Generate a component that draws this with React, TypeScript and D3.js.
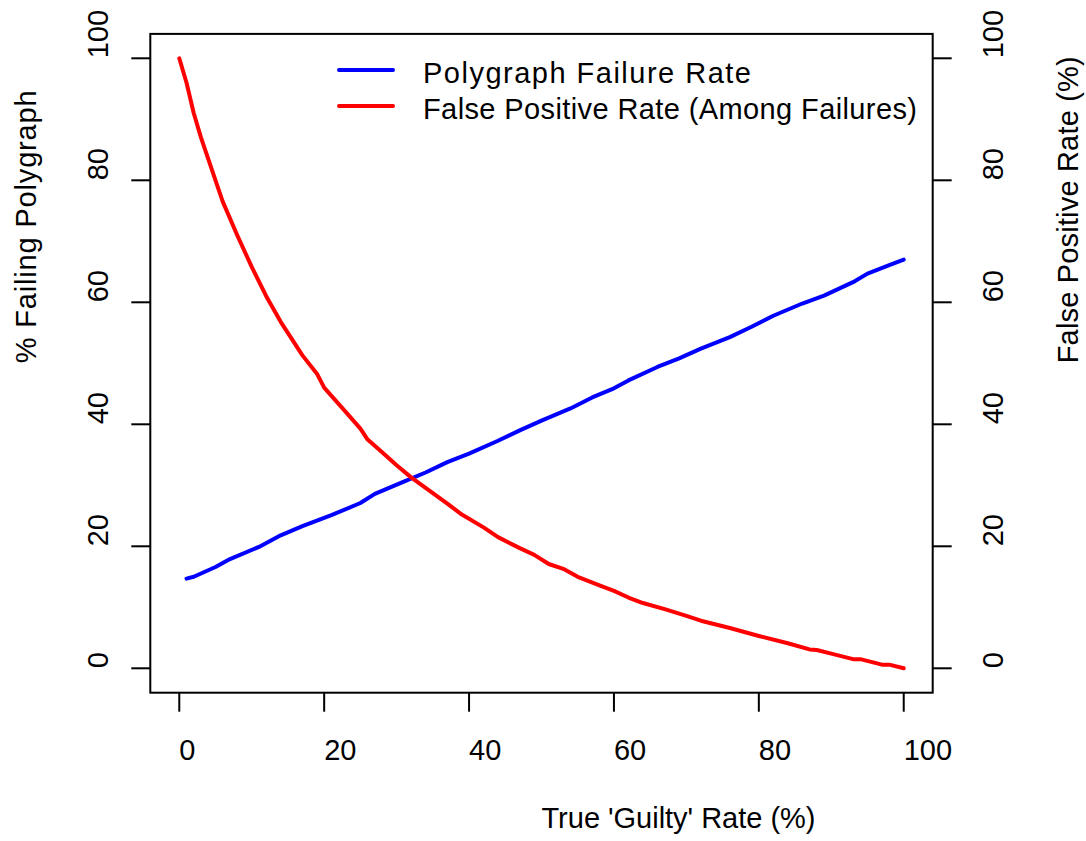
import React from "react";
import * as d3 from "d3";

// values
const failX = [1, 2, 5, 7, 11, 14, 17, 21, 25, 27, 31, 34, 37, 40, 44, 47, 50, 54, 57, 60, 62, 66, 69, 72, 76, 79, 82, 86, 89, 93, 95, 98, 100];
const failRate = [14.7, 15.0, 16.6, 17.9, 19.9, 21.8, 23.3, 25.1, 27.1, 28.6, 30.6, 32.1, 33.8, 35.2, 37.3, 39.0, 40.6, 42.6, 44.4, 45.9, 47.2, 49.4, 50.8, 52.4, 54.3, 56.0, 57.8, 59.8, 61.1, 63.3, 64.7, 66.1, 67.0];

const fpX = [0, 1, 2, 3, 5, 6, 8, 10, 12, 14, 17, 19, 20, 23, 25, 26, 28, 30, 32, 35, 37, 39, 42, 44, 47, 49, 51, 53, 55, 58, 60, 62, 64, 67, 70, 72, 76, 80, 84, 87, 88, 90, 93, 94, 97, 98, 100];
const fpRate = [100, 96, 91, 87, 80, 76.5, 71, 65.8, 61, 56.8, 51.3, 48.3, 46, 42, 39.3, 37.5, 35.4, 33.3, 31.3, 28.7, 27, 25.2, 23.1, 21.5, 19.7, 18.6, 17.1, 16.3, 15.0, 13.6, 12.7, 11.6, 10.7, 9.7, 8.6, 7.8, 6.6, 5.3, 4.1, 3.1, 3.0, 2.4, 1.5, 1.5, 0.6, 0.6, 0];

const tickValues = [0, 20, 40, 60, 80, 100];
const legendLabels = ["Polygraph Failure Rate", "False Positive Rate (Among Failures)"];
const legendWidths = [328, 494];
const seriesColors = ["#0000ff", "#ff0000"];

const font = "'Liberation Sans', Arial, sans-serif";

export default function App() {
  const x = d3.scaleLinear().domain([-4, 104]).range([150.3, 932.7]);
  const y = d3.scaleLinear().domain([-4, 104]).range([692.7, 33.9]);

  const line = d3
    .line<[number, number]>()
    .x(d => x(d[0]))
    .y(d => y(d[1]));

  const failPath = line(failX.map((v, i) => [v, failRate[i]]));
  const fpPath = line(fpX.map((v, i) => [v, fpRate[i]]));

  const [x0, x1] = x.range();
  const [yb, yt] = y.range();
  const midY = (yb + yt) / 2;
  const midX = (x0 + x1) / 2;

  return (
    <svg
      width={1086}
      height={841}
      style={{ position: "absolute", left: 0, top: 0, background: "#fff" }}
      fontFamily={font}
      fontSize={29}
    >
      <rect x={x0} y={yt} width={x1 - x0} height={yb - yt} fill="none" stroke="#000" strokeWidth={2} />

      {/* bottom axis */}
      {tickValues.map(t => (
        <g key={"bx" + t}>
          <line x1={x(t)} x2={x(t)} y1={yb} y2={yb + 19} stroke="#000" strokeWidth={2} />
          <text x={x(t)} y={760}>{t}</text>
        </g>
      ))}

      {/* left axis */}
      {tickValues.map(t => (
        <g key={"ly" + t}>
          <line x1={x0} x2={x0 - 19} y1={y(t)} y2={y(t)} stroke="#000" strokeWidth={2} />
          <text transform={`translate(108,${y(t)}) rotate(-90)`}>{t}</text>
        </g>
      ))}

      {/* right axis */}
      {tickValues.map(t => (
        <g key={"ry" + t}>
          <line x1={x1} x2={x1 + 19} y1={y(t)} y2={y(t)} stroke="#000" strokeWidth={2} />
          <text transform={`translate(1003,${y(t)}) rotate(-90)`}>{t}</text>
        </g>
      ))}

      <text x={midX} y={828} textLength={274}>True 'Guilty' Rate (%)</text>
      <text transform={`translate(36,${midY}) rotate(-90)`} textLength={273}>% Failing Polygraph</text>
      <text transform={`translate(1078,${midY}) rotate(-90)`} textLength={307}>False Positive Rate (%)</text>

      <path d={failPath || ""} fill="none" stroke={seriesColors[0]} strokeWidth={4} strokeLinejoin="round" strokeLinecap="round" />
      <path d={fpPath || ""} fill="none" stroke={seriesColors[1]} strokeWidth={4} strokeLinejoin="round" strokeLinecap="round" />

      {legendLabels.map((label, i) => (
        <g key={label}>
          <line x1={339} x2={393} y1={70 + i * 36} y2={70 + i * 36} stroke={seriesColors[i]} strokeWidth={4} strokeLinecap="round" />
          <text x={423} y={83 + i * 36} textLength={legendWidths[i]}>{label}</text>
        </g>
      ))}
    </svg>
  );
}
